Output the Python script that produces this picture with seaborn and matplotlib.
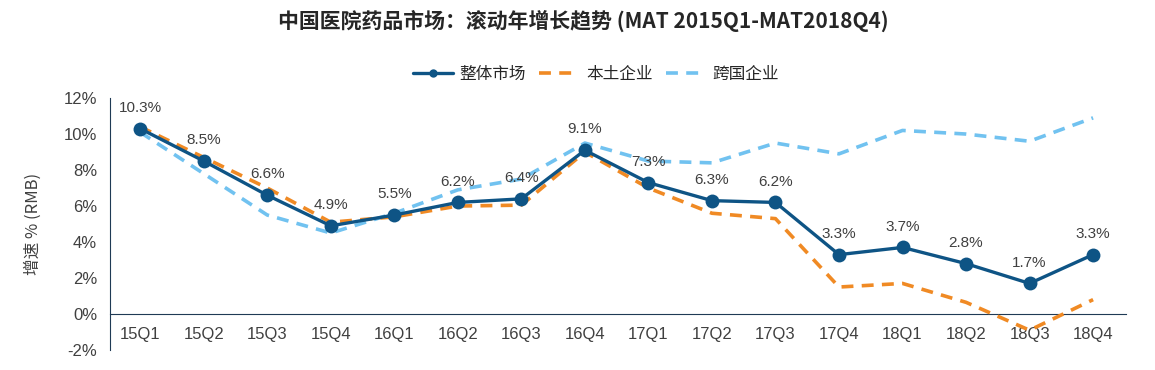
import matplotlib
matplotlib.use("Agg")
import matplotlib.pyplot as plt
import seaborn as sns
import pandas as pd

# data
quarters = ['15Q1', '15Q2', '15Q3', '15Q4', '16Q1', '16Q2', '16Q3', '16Q4',
            '17Q1', '17Q2', '17Q3', '17Q4', '18Q1', '18Q2', '18Q3', '18Q4']
overall = [10.3, 8.5, 6.6, 4.9, 5.5, 6.2, 6.4, 9.1, 7.3, 6.3, 6.2, 3.3, 3.7, 2.8, 1.7, 3.3]
domestic = [10.4, 8.7, 7.0, 5.1, 5.4, 6.0, 6.05, 9.0, 7.0, 5.6, 5.3, 1.5, 1.7, 0.65, -0.9, 0.8]
multinational = [10.1, 7.8, 5.5, 4.5, 5.6, 6.9, 7.5, 9.5, 8.5, 8.4, 9.5, 8.9, 10.2, 10.0, 9.6, 10.9]

df = pd.DataFrame({
    'pos': list(range(len(quarters))),
    'quarter': quarters,
    'overall': overall,
    'domestic': domestic,
    'multinational': multinational,
})

sns.set_style('white')
plt.rcParams['font.family'] = ['Noto Sans CJK SC', 'DejaVu Sans']

dark = '#0e5485'
orange = '#f08a24'
light = '#71c2f0'
grey = '#404040'
axis_col = '#1f3a55'
num_font = 'Liberation Sans'

fig = plt.figure(figsize=(11.55, 3.7), dpi=100)
ax = fig.add_axes([0.095, 0.054, 0.88, 0.681])

sns.lineplot(data=df, x='pos', y='multinational', ax=ax, color=light, lw=2.6,
             label='跨国企业', zorder=2)
ax.lines[-1].set_dashes([3.3, 2.3])
sns.lineplot(data=df, x='pos', y='domestic', ax=ax, color=orange, lw=2.6,
             label='本土企业', zorder=3)
ax.lines[-1].set_dashes([3.3, 2.3])
sns.lineplot(data=df, x='pos', y='overall', ax=ax, color=dark, lw=2.4,
             marker='o', markersize=10, markeredgewidth=0, label='整体市场', zorder=4)

for x, v in zip(df['pos'], overall):
    ax.annotate(f'{v:.1f}%', (x, v), xytext=(0, 10), textcoords='offset points',
                ha='center', va='bottom', fontsize=11, color=grey,
                family=num_font)

# spine position first: it resets the tick objects
ax.spines['top'].set_visible(False)
ax.spines['right'].set_visible(False)
ax.spines['bottom'].set_position(('data', 0))
ax.spines['bottom'].set_color(axis_col)
ax.spines['left'].set_color(axis_col)

ax.set_xlim(-0.48, 15.52)
ax.set_ylim(-2, 12)
ax.set_yticks(range(-2, 13, 2))
ax.set_yticklabels([f'{t}%' for t in range(-2, 13, 2)], fontsize=12, color=grey,
                   family=num_font)
ax.set_xticks(df['pos'])
ax.set_xticklabels(quarters, fontsize=12, color=grey, family=num_font)
ax.set_xticks([p + 0.5 for p in df['pos']], minor=True)
ax.tick_params(axis='x', which='major', length=0, pad=9)
ax.tick_params(axis='x', which='minor', length=5, width=1, color=axis_col, direction='out')
ax.tick_params(axis='y', length=5, width=1, color=axis_col, direction='out', pad=4)

ax.set_xlabel('')
ax.set_ylabel('增速 % (RMB)', fontsize=12, color=grey, labelpad=16)

handles, labels = ax.get_legend_handles_labels()
order = [2, 1, 0]
fig.legend([handles[i] for i in order], [labels[i] for i in order],
           loc='center', bbox_to_anchor=(0.516, 0.8), ncol=3, frameon=False,
           fontsize=12, handlelength=2.4, columnspacing=0.8, handletextpad=0.4,
           markerscale=0.6)
ax.get_legend().remove()

fig.suptitle('中国医院药品市场：滚动年增长趋势 (MAT 2015Q1-MAT2018Q4)',
             x=0.505, y=0.975, fontsize=15, fontweight='bold', color='#262626')

fig.savefig('out.png', dpi=100)
